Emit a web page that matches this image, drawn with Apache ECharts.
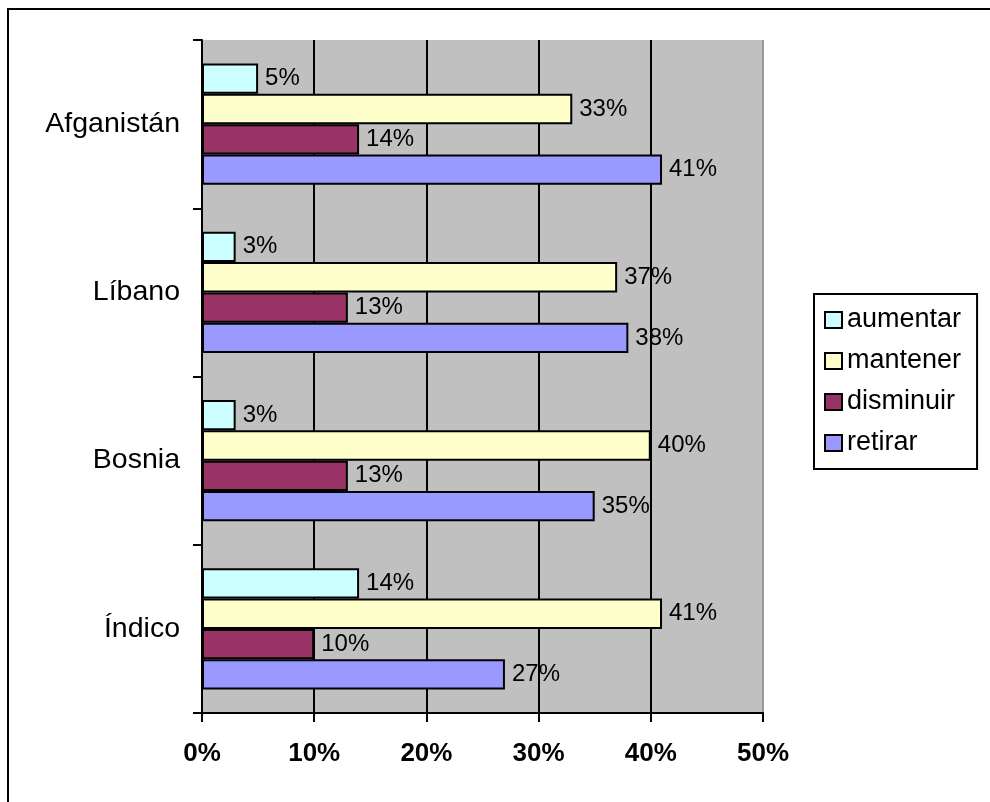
<!DOCTYPE html>
<html>
<head>
<meta charset="utf-8">
<script src="https://cdn.jsdelivr.net/npm/echarts@6/dist/echarts.min.js"></script>
<style>
html,body{margin:0;padding:0;background:#fff;}
#c{width:990px;height:802px;}
</style>
</head>
<body>
<div id="c"></div>
<script>
const categories = ['Índico', 'Bosnia', 'Líbano', 'Afganistán'];
const seriesNames = ['aumentar', 'mantener', 'disminuir', 'retirar'];
const aumentar = [14, 3, 3, 5];
const mantener = [41, 40, 37, 33];
const disminuir = [10, 13, 13, 14];
const retirar = [27, 35, 38, 41];
const tickValues = [0, 10, 20, 30, 40, 50];
const colors = ['#CCFFFF', '#FFFFCC', '#993366', '#9999FF'];

const values = [aumentar, mantener, disminuir, retirar];
const FONT = '"Liberation Sans", Arial, sans-serif';

const chart = echarts.init(document.getElementById('c'), null, {renderer: 'canvas'});
const series = seriesNames.map((name, i) => ({
  name: name,
  type: 'bar',
  data: values[i],
  barGap: '0%',
  barCategoryGap: '27.8%',
  itemStyle: {color: colors[i], borderColor: '#000', borderWidth: 2},
  label: {
    show: true, position: 'right', distance: 7,
    formatter: '{c}%', color: '#000', fontSize: 24, fontFamily: FONT
  },
  emphasis: {disabled: true}
}));

chart.setOption({
  animation: false,
  backgroundColor: '#fff',
  graphic: [{
    type: 'rect', z: 100,
    shape: {x: 8, y: 9, width: 1200, height: 1200},
    style: {fill: 'none', stroke: '#000', lineWidth: 2}
  }],
  grid: {
    left: 202, top: 40, right: 227, bottom: 89,
    show: true, backgroundColor: '#C0C0C0', borderWidth: 0
  },
  legend: {
    orient: 'vertical', left: 814, top: 294,
    data: seriesNames,
    icon: 'rect', itemWidth: 17, itemHeight: 16, itemGap: 13, itemTextGap: 7,
    padding: [12, 16, 12, 10],
    borderColor: '#000', borderWidth: 2, backgroundColor: '#fff',
    textStyle: {fontSize: 27, lineHeight: 28, color: '#000', fontFamily: FONT},
    itemStyle: {borderColor: '#000', borderWidth: 2}
  },
  xAxis: {
    type: 'value', min: tickValues[0], max: tickValues[tickValues.length - 1], interval: 10,
    axisLine: {show: true, lineStyle: {color: '#000', width: 2}},
    axisTick: {show: true, length: 9, lineStyle: {color: '#000', width: 2}},
    splitLine: {show: true, lineStyle: {color: ['#000', '#000', '#000', '#000', '#000', '#999'], width: 2}},
    axisLabel: {formatter: '{value}%', fontSize: 26, fontWeight: 'bold', color: '#000', fontFamily: FONT, margin: 28}
  },
  yAxis: {
    type: 'category', data: categories,
    axisLine: {show: true, lineStyle: {color: '#000', width: 2}},
    axisTick: {show: true, length: 9, lineStyle: {color: '#000', width: 2}},
    axisLabel: {fontSize: 28.5, color: '#000', fontFamily: FONT, margin: 22},
    splitLine: {show: false}
  },
  series: series
});
</script>
</body>
</html>
